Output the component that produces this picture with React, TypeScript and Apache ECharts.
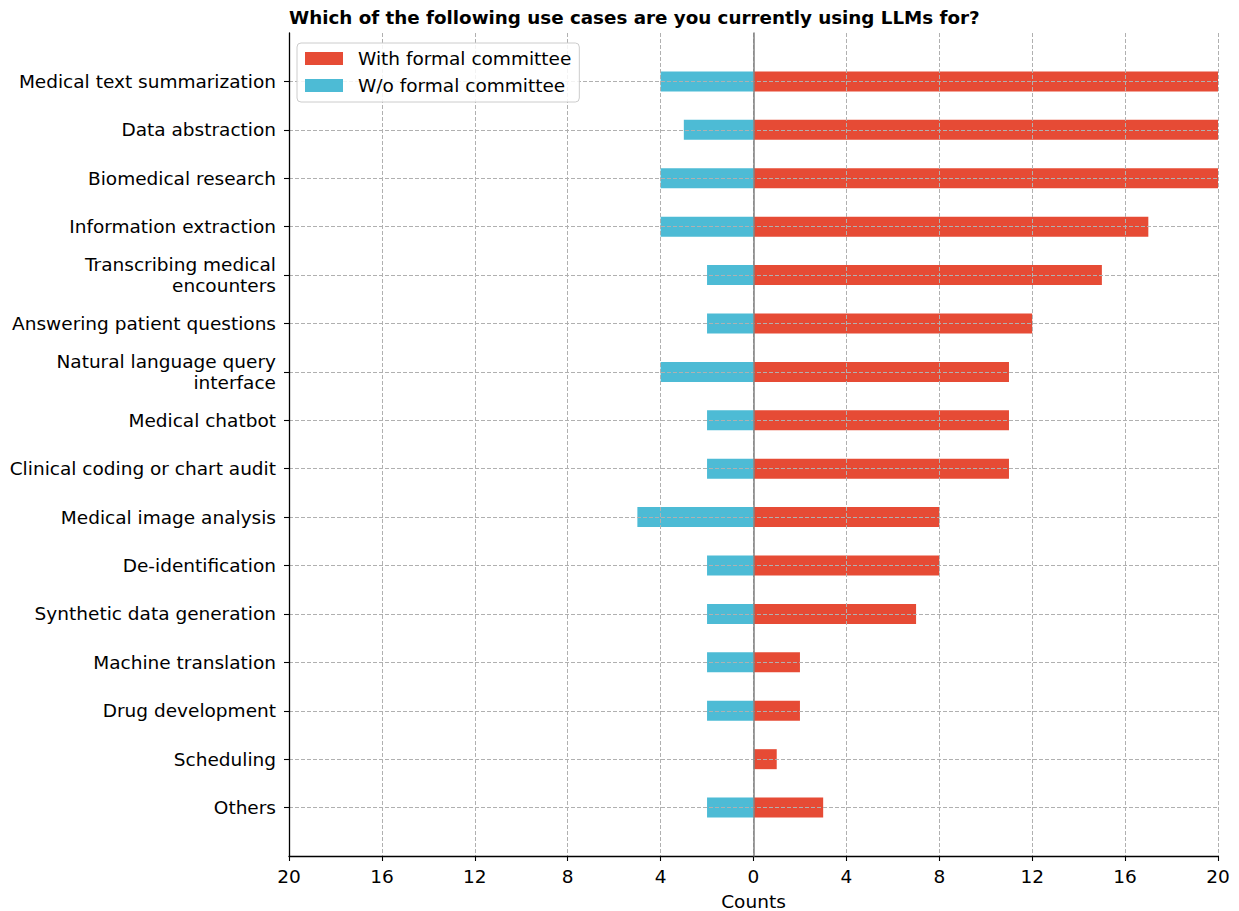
import React, { useEffect, useRef } from "react";
import * as echarts from "echarts";

const categories = [
  "Medical text summarization",
  "Data abstraction",
  "Biomedical research",
  "Information extraction",
  "Transcribing medical\nencounters",
  "Answering patient questions",
  "Natural language query\ninterface",
  "Medical chatbot",
  "Clinical coding or chart audit",
  "Medical image analysis",
  "De-identification",
  "Synthetic data generation",
  "Machine translation",
  "Drug development",
  "Scheduling",
  "Others",
];
const withCommittee = [20, 20, 20, 17, 15, 12, 11, 11, 11, 8, 8, 7, 2, 2, 1, 3];
const withoutCommittee = [4, 3, 4, 4, 2, 2, 4, 2, 2, 5, 2, 2, 2, 2, 0, 2];
const xTicks = { min: -20, max: 20, interval: 4 };

const FONT = "DejaVu Sans";
const FS = 18.5;

export default function App() {
  const ref = useRef<HTMLDivElement>(null);
  useEffect(() => {
    if (!ref.current) return;
    const chart = echarts.init(ref.current, undefined, { renderer: "svg" });
    const cats = ["", ...categories, ""];
    const n = cats.length;
    const red = [null, ...withCommittee, null];
    const blue = [null, ...withoutCommittee.map((v) => -v), null];
    chart.setOption({
      animation: false,
      backgroundColor: "#ffffff",
      textStyle: { fontFamily: FONT },
      title: {
        text: "Which of the following use cases are you currently using LLMs for?",
        left: 284,
        top: 3,
        textStyle: { fontFamily: FONT, fontSize: 18.3, fontWeight: "bold", color: "#000" },
      },
      legend: {
        orient: "vertical",
        left: 297,
        top: 43,
        icon: "rect",
        itemWidth: 38,
        itemHeight: 13,
        itemGap: 6,
        padding: [5, 8, 6, 8],
        borderColor: "#cccccc",
        borderWidth: 1,
        borderRadius: 4,
        backgroundColor: "rgba(255,255,255,0.85)",
        textStyle: { fontFamily: FONT, fontSize: FS, color: "#000", lineHeight: 21, padding: [0, 0, 0, 10] },
        data: ["With formal committee", "W/o formal committee"],
        z: 10,
      },
      grid: {
        left: 289,
        right: 21,
        top: 33,
        bottom: 55,
        containLabel: false,
        outerBoundsMode: "none",
      },
      xAxis: {
        type: "value",
        min: xTicks.min,
        max: xTicks.max,
        interval: xTicks.interval,
        z: 3,
        name: "Counts",
        nameLocation: "middle",
        nameGap: 36,
        nameTextStyle: { fontFamily: FONT, fontSize: FS, color: "#000" },
        axisLine: { show: true, onZero: false, lineStyle: { color: "#000", width: 1.3 } },
        axisTick: { show: true, length: 5, lineStyle: { color: "#000", width: 1.1 } },
        axisLabel: {
          fontFamily: FONT,
          fontSize: FS,
          color: "#000",
          margin: 11,
          formatter: (v: number) => String(Math.abs(v)),
        },
        splitLine: { show: true, lineStyle: { color: "#b0b0b0", type: [4, 2], width: 1 } },
      },
      yAxis: [
        {
          type: "category",
          data: cats,
          inverse: true,
          boundaryGap: false,
          z: 3,
          axisLine: { show: true, onZero: false, lineStyle: { color: "#000", width: 1.3 } },
          axisTick: {
            show: true,
            length: 5,
            interval: (i: number) => i > 0 && i < n - 1,
            lineStyle: { color: "#000", width: 1.1 },
          },
          axisLabel: {
            fontFamily: FONT,
            fontSize: FS,
            color: "#000",
            margin: 13,
            lineHeight: 21,
            align: "right",
            interval: 0,
          },
          splitLine: {
            show: true,
            interval: (i: number) => i > 0 && i < n - 1,
            lineStyle: { color: "#b0b0b0", type: [4, 2], width: 1 },
          },
        },
        {
          type: "category",
          data: cats,
          inverse: true,
          boundaryGap: false,
          z: 4,
          axisLine: { show: true, onZero: true, lineStyle: { color: "#808080", width: 1.5 } },
          axisTick: { show: false },
          axisLabel: { show: false },
          splitLine: { show: false },
        },
      ],
      series: [
        {
          name: "With formal committee",
          type: "bar",
          data: red,
          barWidth: 20,
          barGap: "-100%",
          itemStyle: { color: "#E64B35" },
          z: 2,
        },
        {
          name: "W/o formal committee",
          type: "bar",
          data: blue,
          barWidth: 20,
          barGap: "-100%",
          itemStyle: { color: "#4DBBD5" },
          z: 2,
        },
      ],
    });
    return () => chart.dispose();
  }, []);
  return (
    <div
      ref={ref}
      style={{ position: "absolute", left: 0, top: 0, width: 1239, height: 911 }}
    />
  );
}
